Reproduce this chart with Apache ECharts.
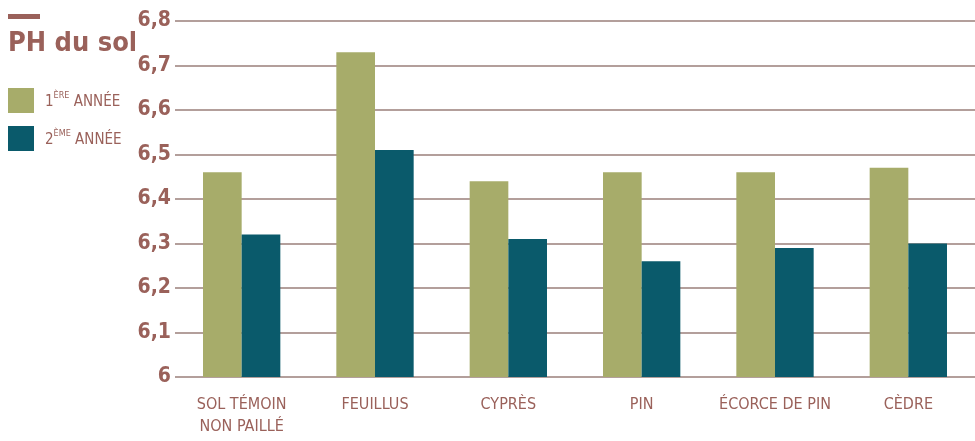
<!DOCTYPE html>
<html><head><meta charset="utf-8">
<script src="https://cdn.jsdelivr.net/npm/echarts@6/dist/echarts.min.js"></script>
<style>html,body{margin:0;padding:0;background:#fff}#c{width:975px;height:441px}</style>
</head><body><div id="c"></div>
<script>
const categories = ['SOL TÉMOIN\nNON PAILLÉ', 'FEUILLUS', 'CYPRÈS', 'PIN', 'ÉCORCE DE PIN', 'CÈDRE'];
const annee1 = [6.46, 6.73, 6.44, 6.46, 6.46, 6.47];
const annee2 = [6.32, 6.51, 6.31, 6.26, 6.29, 6.30];
const seriesNames = ['1ère année', '2ème année'];
const FONT = "'DejaVu Sans Condensed', 'Liberation Sans Narrow', sans-serif";
const BROWN = '#9a615a';
const chart = echarts.init(document.getElementById('c'));
chart.setOption({
  animation: false,
  textStyle: { fontFamily: FONT },
  grid: { left: 175, right: -4, top: 21, bottom: 64 },
  graphic: [
    { type: 'rect', left: 8, top: 14, shape: { width: 32, height: 5 }, style: { fill: BROWN } },
    { type: 'text', left: 8, top: 30, style: { text: 'PH du sol', fill: BROWN, font: "bold 27px " + FONT } }
  ],
  legend: {
    orient: 'vertical', left: 8, top: 88, padding: 0, itemGap: 13, itemWidth: 26, itemHeight: 25,
    icon: 'rect', selectedMode: false,
    formatter: function (n) {
      return n === seriesNames[0] ? '{a|1}{b|ÈRE}{a| ANNÉE}' : '{a|2}{b|ÈME}{a| ANNÉE}';
    },
    textStyle: {
      padding: [0, 0, 0, 6],
      rich: {
        a: { fontSize: 15, color: BROWN, fontFamily: FONT, lineHeight: 18, verticalAlign: 'bottom' },
        b: { fontSize: 9, color: BROWN, fontFamily: FONT, lineHeight: 18, verticalAlign: 'top', padding: [0, 0, 6, 0] }
      }
    },
    data: seriesNames
  },
  xAxis: {
    type: 'category', data: categories,
    axisLine: { show: false }, axisTick: { show: false },
    axisLabel: { color: BROWN, fontSize: 16, margin: 17, lineHeight: 22, fontFamily: FONT, interval: 0 }
  },
  yAxis: {
    type: 'value', min: 6, max: 6.8, interval: 0.1,
    axisLine: { show: false }, axisTick: { show: false },
    axisLabel: { color: BROWN, fontSize: 21, fontWeight: 'bold', margin: 4, fontFamily: FONT,
      formatter: v => (Math.round(v * 10) / 10).toString().replace('.', ',') },
    splitLine: { lineStyle: { color: '#9a7f7a', width: 1.5 } }
  },
  series: [
    { name: seriesNames[0], type: 'bar', data: annee1, itemStyle: { color: '#a7ac6a' }, barGap: '0%', barCategoryGap: '42%' },
    { name: seriesNames[1], type: 'bar', data: annee2, itemStyle: { color: '#0a5a6b' }, barGap: '0%', barCategoryGap: '42%' }
  ]
});
</script></body></html>
